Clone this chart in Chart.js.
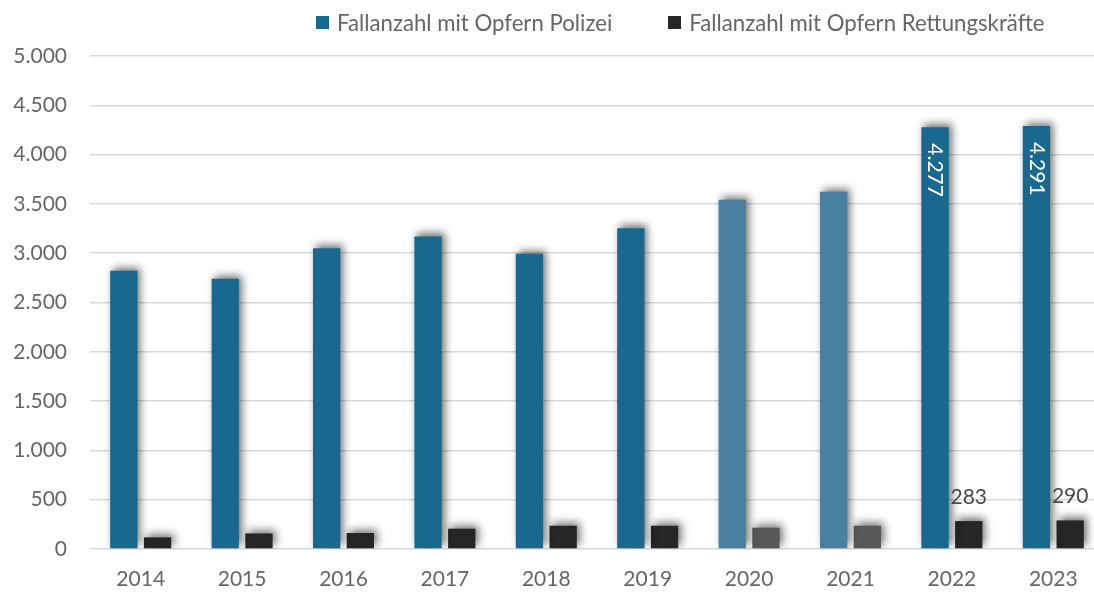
<!DOCTYPE html>
<html lang="de">
<head>
<meta charset="utf-8">
<script src="https://cdn.jsdelivr.net/npm/chart.js@4.4.1/dist/chart.umd.min.js"></script>
<style>
  html, body { margin: 0; padding: 0; background: #fff; overflow: hidden; }
  #wrap { position: relative; width: 1104px; height: 592px; }
  #legend { position: absolute; top: 9px; left: 316px; display: flex; font-family: Lato, sans-serif; font-size: 22.2px; color: #666666; white-space: nowrap; }
  .item { display: flex; align-items: center; margin-right: 56px; }
  .sw { width: 13px; height: 13px; margin-right: 8px; }
</style>
</head>
<body>
<div id="wrap">
  <canvas id="chart" width="1104" height="592"></canvas>
  <div id="legend"></div>
</div>
<script>
// Werte
const years = ['2014', '2015', '2016', '2017', '2018', '2019', '2020', '2021', '2022', '2023'];
const polizei = [2822, 2741, 3049, 3170, 2995, 3252, 3543, 3624, 4277, 4291];
const rettung = [118, 158, 162, 206, 236, 236, 216, 236, 283, 290];
const seriesNames = ['Fallanzahl mit Opfern Polizei', 'Fallanzahl mit Opfern Rettungskräfte'];
const yTicks = [0, 500, 1000, 1500, 2000, 2500, 3000, 3500, 4000, 4500, 5000];
const labelledYears = ['2022', '2023'];
const fadedYears = ['2020', '2021'];

const blue = '#18688f', blueFaded = '#4a809f';
const dark = '#262626', darkFaded = '#585858';
const grey = '#666666';
const font = {family: 'Lato', size: 21};

let fmt = v => String(v).replace(/\B(?=(\d{3})+(?!\d))/g, '.');

// legende
const legendEl = document.getElementById('legend');
[blue, dark].forEach((col, i) => {
    const it = document.createElement('div');
    it.className = 'item';
    it.innerHTML = '<span class="sw" style="background:' + col + '"></span><span>' + seriesNames[i] + '</span>';
    legendEl.appendChild(it);
});

const barShadow = {
    id: 'barShadow',
    beforeDatasetsDraw(chart) {
        const c = chart.ctx;
        c.save();
        c.shadowColor = 'rgba(0,0,0,0.55)';
        c.shadowBlur = 8;
        c.shadowOffsetX = 3;
        c.shadowOffsetY = -3;
    },
    afterDatasetsDraw(chart) {
        chart.ctx.restore();
    }
};

const valueLabels = {
    id: 'valueLabels',
    afterDatasetsDraw(chart) {
        const c = chart.ctx;
        c.save();
        c.font = font.size + 'px ' + font.family;
        labelledYears.forEach(y => {
            const i = years.indexOf(y);
            const p = chart.getDatasetMeta(0).data[i];
            c.save();
            c.translate(p.x, p.y + 16);
            c.rotate(Math.PI / 2);
            c.fillStyle = '#ffffff';
            c.textAlign = 'left';
            c.textBaseline = 'middle';
            c.fillText(fmt(polizei[i]), 0, 0);
            c.restore();

            const r = chart.getDatasetMeta(1).data[i];
            c.fillStyle = '#4a4a4a';
            c.textAlign = 'center';
            c.textBaseline = 'alphabetic';
            c.fillText(fmt(rettung[i]), r.x, r.y - 17);
        });
        c.restore();
    }
};

let colorsFor = (base, faded) => years.map(y => fadedYears.includes(y) ? faded : base);

new Chart(document.getElementById('chart').getContext('2d'), {
    type: 'bar',
    data: {
        labels: years,
        datasets: [
            {
                label: seriesNames[0],
                data: polizei,
                backgroundColor: colorsFor(blue, blueFaded),
                borderWidth: 0,
                categoryPercentage: 0.665,
                barPercentage: 0.81,
            },
            {
                label: seriesNames[1],
                data: rettung,
                backgroundColor: colorsFor(dark, darkFaded),
                borderWidth: 0,
                categoryPercentage: 0.665,
                barPercentage: 0.81,
            },
        ],
    },
    options: {
        responsive: false,
        animation: false,
        layout: {padding: {top: 56, left: 0, right: 0, bottom: 0}},
        plugins: {
            legend: {display: false},
            tooltip: {enabled: false},
        },
        scales: {
            x: {
                grid: {display: false, drawTicks: false},
                border: {display: false},
                ticks: {color: grey, font: font, padding: 18},
                afterFit: s => { s.height = 43; },
            },
            y: {
                min: 0,
                max: 5000,
                afterBuildTicks: s => { s.ticks = yTicks.map(v => ({value: v})); },
                ticks: {color: grey, font: font, padding: 23, callback: v => fmt(v)},
                grid: {color: '#d9d9d9', lineWidth: 1.5, drawTicks: false},
                border: {display: false},
                afterFit: s => { s.width = 90; },
            },
        },
    },
    plugins: [barShadow, valueLabels],
});
</script>
</body>
</html>
